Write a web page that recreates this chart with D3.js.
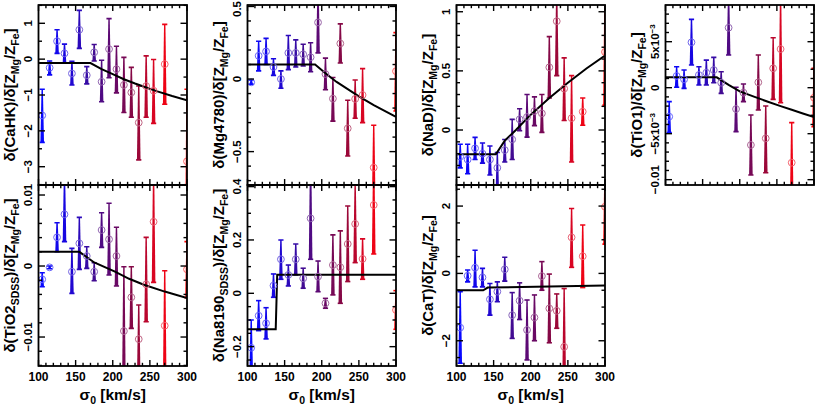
<!DOCTYPE html>
<html><head><meta charset="utf-8">
<script src="https://cdn.jsdelivr.net/npm/d3@7"></script>
<style>
body{margin:0;background:#fff}
svg{display:block}
text{font-family:"Liberation Sans",Arial,Helvetica,sans-serif;font-weight:bold;fill:#000}
</style>
</head><body>
<svg id="chart" width="817" height="406"></svg>
<script>
// ---------------- data ----------------
const sigma = [105,115,125,135,145,155,165,175,185,195,205,215,225,235,245,255,270,300];
const xTickValues = [100,150,200,250,300];
const xTickLabels = ["100","150","200","250","300"];

// CaHK
const cahkVal = [-1.57,-0.24,0.50,0.16,-0.40,0.82,-0.45,0.19,-0.63,0.28,-0.28,-0.72,-0.93,-1.77,-0.75,-0.88,-0.14,-2.85];
const cahkHi  = [-0.84,-0.05,0.82,0.42,-0.06,1.36,-0.21,0.41,-0.03,1.13,0.36,0.05,-0.23,-0.75,0.09,-0.01,0.97,-0.84];
const cahkLo  = [-2.32,-0.44,0.16,-0.10,-0.72,0.30,-0.69,-0.05,-1.19,-0.52,-0.94,-1.49,-1.62,-2.81,-1.62,-1.79,-1.26,-4.90];
const cahkModelSigma = [100,170,185,200,215,230,245,260,280,300];
const cahkModel      = [-0.11,-0.11,-0.28,-0.42,-0.56,-0.68,-0.79,-0.90,-1.03,-1.15];
const cahkTicks = [1,0,-1,-2,-3];
const cahkTickLabels = ["1","0","−1","−2","−3"];

// Mg4780
const mgVal = [-0.023,0.16,0.19,0.083,0.0,0.18,0.18,0.17,0.15,0.39,0.034,-0.135,0.245,-0.34,-0.137,-0.11,-0.61,0.054];
const mgHi  = [-0.007,0.26,0.28,0.14,0.056,0.30,0.27,0.24,0.25,0.62,0.144,0.011,0.38,-0.146,-0.007,0.072,-0.318,0.32];
const mgLo  = [-0.036,0.056,0.10,0.025,-0.063,0.065,0.083,0.09,0.05,0.18,-0.074,-0.29,0.11,-0.53,-0.27,-0.30,-0.85,-0.22];
const mgModelSigma = [100,191,205,220,235,250,270,300];
const mgModel      = [0.10,0.10,0.04,-0.02,-0.07,-0.12,-0.18,-0.26];
const mgTicks = [0.5,0,-0.5];
const mgTickLabels = ["0.5","0","−0.5"];

// NaD
const nadVal = [-0.225,-0.25,-0.155,-0.20,-0.25,-0.32,-0.17,-0.08,0.09,0.11,0.16,0.14,0.53,0.92,0.35,0.10,0.155,0.66];
const nadHi  = [-0.12,-0.12,-0.062,-0.11,-0.135,-0.19,-0.08,0.09,0.18,0.30,0.28,0.30,0.79,1.15,0.61,0.46,0.27,1.15];
const nadLo  = [-0.32,-0.37,-0.25,-0.28,-0.38,-0.55,-0.27,-0.25,-0.006,-0.06,0.037,-0.02,0.27,0.46,0.08,-0.27,0.04,0.21];
const nadModelSigma = [100,153,165,180,200,225,250,275,300];
const nadModel      = [-0.205,-0.205,-0.09,0.0,0.13,0.27,0.40,0.52,0.63];
const nadTicks = [1,0.5,0];
const nadTickLabels = ["1","0.5","0"];

// TiO1
const tio1Val = [-0.00315,0.00127,0.0009,0.00493,0.00138,0.00163,0.00192,0.00054,0.00652,-0.00232,-0.00054,-0.00623,0.00058,-0.00551,0.0021,0.0042,-0.00815,-0.00109];
const tio1Hi  = [-0.00152,0.00228,0.00192,0.00743,0.00228,0.0030,0.0033,0.00174,0.0100,0.00004,0.0004,-0.00297,0.00355,-0.00199,0.00543,0.0100,-0.0038,0.0021];
const tio1Lo  = [-0.00489,0.00004,-0.00007,0.00246,0.00029,0.00029,0.00054,-0.00062,0.00355,-0.00478,-0.00152,-0.00949,-0.00243,-0.00924,-0.00127,-0.00163,-0.0125,-0.00424];
const tio1ModelSigma = [100,169,185,200,220,237,255,270,285,300];
const tio1Model      = [0.00113,0.00113,0.0003,-0.0004,-0.001,-0.0015,-0.002,-0.0024,-0.0028,-0.0032];
const tio1Ticks = [0.005,0,-0.005,-0.01];
const tio1TickLabels = [["5x10","−3"],["0",""],["−5x10","−3"],["−0.01",""]];

// TiO2_SDSS
const tio2Val = [-0.00188,-0.00019,0.00404,0.00728,-0.0008,0.00319,0.00141,-0.0008,0.00507,0.00376,0.00141,-0.00916,-0.00441,-0.0103,-0.00258,0.00624,-0.0084,-0.00047];
const tio2Hi  = [-0.00094,0.0,0.0061,0.0125,0.00249,0.00685,0.00272,0.00047,0.00751,0.00883,0.00545,-0.0001,-0.0001,-0.0055,0.00404,0.0125,-0.00066,0.00343];
const tio2Lo  = [-0.00291,-0.00038,0.00202,0.00343,-0.00385,-0.00047,-0.00033,-0.00207,0.00263,-0.00127,-0.00282,-0.0165,-0.00878,-0.0165,-0.00784,-0.0023,-0.0165,-0.00446];
const tio2ModelSigma = [100,155,175,203,222,241,270,300];
const tio2Model      = [0.002,0.002,0.0005,-0.0008,-0.0018,-0.0026,-0.0036,-0.0045];
const tio2Ticks = [0.01,0,-0.01];
const tio2TickLabels = ["0.01","0","−0.01"];

// Na8190_SDSS
const na8Val = [-0.204,-0.084,-0.1125,0.029,0.1275,0.069,0.1275,0.056,0.281,0.0625,-0.0375,0.106,0.0975,0.185,0.26,0.129,0.331,-0.0625];
const na8Hi  = [-0.10,-0.0275,-0.054,0.0725,0.20,0.106,0.185,0.094,0.50,0.121,-0.019,0.219,0.234,0.3275,0.41,0.204,0.50,0.01];
const na8Lo  = [-0.30,-0.14,-0.171,-0.015,0.0525,0.0275,0.069,0.019,0.1275,0.006,-0.056,-0.006,-0.0375,0.044,0.115,0.0525,0.1475,-0.135];
const na8ModelSigma = [100,138,140,300];
const na8Model      = [-0.135,-0.135,0.07,0.07];
const na8Ticks = [0.4,0.2,0,-0.2];
const na8TickLabels = ["0.4","0.2","0","−0.2"];

// CaT
const catVal = [-1.61,-0.07,0.17,-0.12,-0.77,-0.54,0.12,-1.24,-0.81,-1.68,-1.31,-0.08,-1.04,-1.11,-2.18,1.07,0.51,1.98];
const catHi  = [-0.54,0.10,0.69,0.15,-0.30,-0.25,0.48,-0.57,-0.28,-0.79,-0.64,0.35,-0.02,-0.61,-0.45,1.93,1.44,3.00];
const catLo  = [-2.67,-0.25,-0.40,-0.40,-1.24,-0.84,-0.23,-1.93,-1.37,-2.57,-2.00,-0.50,-2.06,-1.63,-3.00,0.18,-0.42,0.87];
const catModelSigma = [100,136,142,300];
const catModel      = [-0.50,-0.50,-0.42,-0.36];
const catTicks = [2,0,-2];
const catTickLabels = ["2","0","−2"];

// ---------------- layout ----------------
const colX = [38.5, 247.5, 456.5, 665.5];
const panelW = 148.5;
const rowY = [5, 185];
const rowH = [180, 181];

const panels = [
  {col:0,row:0,val:cahkVal,hi:cahkHi,lo:cahkLo,ms:cahkModelSigma,mv:cahkModel,dom:[-3.51,1.51],minor:0.5,ticks:cahkTicks,labels:cahkTickLabels,
   title:[["δ(CaHK)/δ[Z",0],["Mg",1],["/Z",0],["Fe",1],["]",0]]},
  {col:1,row:0,val:mgVal,hi:mgHi,lo:mgLo,ms:mgModelSigma,mv:mgModel,dom:[-0.73,0.51],minor:0.1,ticks:mgTicks,labels:mgTickLabels,
   title:[["δ(Mg4780)/δ[Z",0],["Mg",1],["/Z",0],["Fe",1],["]",0]]},
  {col:2,row:0,val:nadVal,hi:nadHi,lo:nadLo,ms:nadModelSigma,mv:nadModel,dom:[-0.465,1.057],minor:0.1,ticks:nadTicks,labels:nadTickLabels,
   title:[["δ(NaD)/δ[Z",0],["Mg",1],["/Z",0],["Fe",1],["]",0]]},
  {col:3,row:0,val:tio1Val,hi:tio1Hi,lo:tio1Lo,ms:tio1ModelSigma,mv:tio1Model,dom:[-0.01058,0.00899],minor:0.001,ticks:tio1Ticks,labels:tio1TickLabels,
   title:[["δ(TiO1)/δ[Z",0],["Mg",1],["/Z",0],["Fe",1],["]",0]]},
  {col:0,row:1,val:tio2Val,hi:tio2Hi,lo:tio2Lo,ms:tio2ModelSigma,mv:tio2Model,dom:[-0.01408,0.01141],minor:0.002,ticks:tio2Ticks,labels:tio2TickLabels,
   title:[["δ(TiO2",0],["SDSS",1],[")/δ[Z",0],["Mg",1],["/Z",0],["Fe",1],["]",0]]},
  {col:1,row:1,val:na8Val,hi:na8Hi,lo:na8Lo,ms:na8ModelSigma,mv:na8Model,dom:[-0.2725,0.406],minor:0.05,ticks:na8Ticks,labels:na8TickLabels,
   title:[["δ(Na8190",0],["SDSS",1],[")/δ[Z",0],["Mg",1],["/Z",0],["Fe",1],["]",0]]},
  {col:2,row:1,val:catVal,hi:catHi,lo:catLo,ms:catModelSigma,mv:catModel,dom:[-2.75,2.626],minor:0.5,ticks:catTicks,labels:catTickLabels,
   title:[["δ(CaT)/δ[Z",0],["Mg",1],["/Z",0],["Fe",1],["]",0]]}
];

const color = d3.scaleLinear()
  .domain([105,140,170,200,230,260,300])
  .range(["#0808ff","#1a06dc","#3c0c9a","#62086c","#8c083e","#e8041c","#ff0000"])
  .interpolate(d3.interpolateRgb);
const ringColor = s => d3.interpolateRgb(color(s), "#ffffff")(0.38);

const svg = d3.select("#chart");

panels.forEach((p, pi) => {
  const x0 = colX[p.col], y0 = rowY[p.row], h = rowH[p.row];
  const x = d3.scaleLinear().domain([100,300]).range([x0, x0 + panelW]);
  const y = d3.scaleLinear().domain(p.dom).range([y0 + h, y0]);

  const cid = "clip" + pi;
  svg.append("clipPath").attr("id", cid).append("rect")
    .attr("x", x0).attr("y", y0).attr("width", panelW).attr("height", h);
  const g = svg.append("g").attr("clip-path", `url(#${cid})`);

  // error bars (tapered)
  sigma.forEach((s, i) => {
    const xc = x(s), yt = y(p.hi[i]), yb = y(p.lo[i]);
    const c = color(s);
    g.append("path")
      .attr("d", `M${xc-0.7},${yt}L${xc+0.7},${yt}L${xc+1.8},${yb}L${xc-1.8},${yb}Z`)
      .attr("fill", c);
    g.append("line").attr("x1", xc-2.6).attr("x2", xc+2.6).attr("y1", yt).attr("y2", yt)
      .attr("stroke", c).attr("stroke-width", 1.6);
    g.append("line").attr("x1", xc-2.6).attr("x2", xc+2.6).attr("y1", yb).attr("y2", yb)
      .attr("stroke", c).attr("stroke-width", 1.6);
  });
  // model line
  const line = d3.line().x(d => x(d[0])).y(d => y(d[1]));
  g.append("path").datum(p.ms.map((s, i) => [s, p.mv[i]]))
    .attr("d", line).attr("fill", "none").attr("stroke", "#000").attr("stroke-width", 2);
  // circles
  sigma.forEach((s, i) => {
    g.append("circle").attr("cx", x(s)).attr("cy", y(p.val[i])).attr("r", 3.4)
      .attr("fill", "none").attr("stroke", ringColor(s)).attr("stroke-width", 1);
  });

  // frame
  svg.append("rect").attr("x", x0).attr("y", y0).attr("width", panelW).attr("height", h)
    .attr("fill", "none").attr("stroke", "#000").attr("stroke-width", 1.8);

  // ticks
  const tk = svg.append("g").attr("stroke", "#000").attr("stroke-width", 1.4);
  d3.range(100, 300.1, 10).forEach(v => {
    const len = (v % 50 === 0) ? 6 : 3.2;
    const xv = x(v);
    tk.append("line").attr("x1", xv).attr("x2", xv).attr("y1", y0 + h).attr("y2", y0 + h - len);
    tk.append("line").attr("x1", xv).attr("x2", xv).attr("y1", y0).attr("y2", y0 + len);
  });
  const mStart = Math.ceil(p.dom[0] / p.minor - 1e-6), mEnd = Math.floor(p.dom[1] / p.minor + 1e-6);
  d3.range(mStart, mEnd + 1).forEach(k => {
    const v = k * p.minor;
    const major = p.ticks.some(t => Math.abs(t - v) < p.minor * 0.01);
    const len = major ? 6.5 : 3.5;
    const yv = y(v);
    tk.append("line").attr("x1", x0).attr("x2", x0 + len).attr("y1", yv).attr("y2", yv);
    tk.append("line").attr("x1", x0 + panelW).attr("x2", x0 + panelW - len).attr("y1", yv).attr("y2", yv);
  });

  // y tick labels (rotated)
  p.ticks.forEach((t, i) => {
    const lab = p.labels[i];
    const tx = svg.append("text")
      .attr("text-anchor", "middle").attr("font-size", 11.5);
    if (Array.isArray(lab)) {
      tx.append("tspan").text(lab[0]);
      if (lab[1]) {
        tx.append("tspan").attr("dy", -4.5).attr("font-size", 8).text(lab[1]);
      }
    } else {
      tx.text(lab);
    }
    // keep label inside the picture (nudge if it would run past the top edge)
    const half = tx.node().getComputedTextLength() / 2;
    const cy = Math.max(y(t), half + 1);
    tx.attr("transform", `translate(${x0 - 6.5},${cy}) rotate(-90)`);
  });

  // y title
  const tt = svg.append("text")
    .attr("transform", `translate(${x0 - 23.5},${y0 + h / 2}) rotate(-90)`)
    .attr("text-anchor", "middle").attr("font-size", 15);
  let shifted = false;
  p.title.forEach(([txt, sub]) => {
    const ts = tt.append("tspan").text(txt);
    if (sub && !shifted) { ts.attr("dy", 3.5).attr("font-size", 10.5); shifted = true; }
    else if (!sub && shifted) { ts.attr("dy", -3.5); shifted = false; }
    else if (sub) { ts.attr("font-size", 10.5); }
  });

  // x labels for bottom row
  if (p.row === 1) {
    xTickValues.forEach((v, i) => {
      svg.append("text").attr("x", x(v)).attr("y", y0 + h + 15)
        .attr("text-anchor", "middle").attr("font-size", 12).text(xTickLabels[i]);
    });
    const xt = svg.append("text").attr("x", x0 + panelW / 2).attr("y", 400)
      .attr("text-anchor", "middle").attr("font-size", 15.5);
    xt.append("tspan").text("σ");
    xt.append("tspan").attr("dy", 3.5).attr("font-size", 10.5).text("0");
    xt.append("tspan").attr("dy", -3.5).text(" [km/s]");
  }
});
</script>
</body></html>
